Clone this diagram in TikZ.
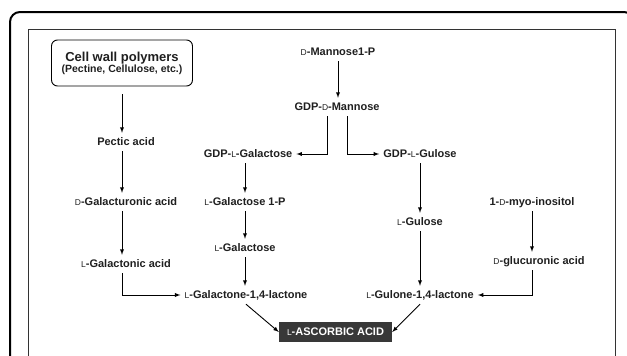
\documentclass[tikz,border=0pt]{standalone}
\usepackage{fontspec}
\setmainfont{Liberation Sans}
\usetikzlibrary{shapes.geometric, arrows}
\tikzstyle{arrow} = [line width=0.9pt,->,>=latex]
\tikzstyle{met} = [text centered, font=\bfseries\fontsize{11}{12}\selectfont, text=black!88, text height=8pt, text depth=2pt, inner xsep=4pt, inner ysep=4pt]
\newcommand{\Dp}{{\mdseries\fontsize{8.5}{8.5}\selectfont D}}
\newcommand{\Lp}{{\mdseries\fontsize{8.5}{8.5}\selectfont L}}

\begin{document}
\begin{tikzpicture}[x=1pt,y=-1pt]
        \useasboundingbox (0,0) rectangle (627,356);
        \clip (0,0) rectangle (627,356);

        %frames
        \draw [line width=2pt, rounded corners=10pt] (10,12) rectangle (634,380);
        \draw [line width=0.8pt, black!80] (28,29) rectangle (615,372);

        %cell wall pathway
        \node at (122,63) [draw, line width=0.9pt, rounded corners=6pt, minimum width=141pt, minimum height=46pt, align=center, text=black!88] (cellwall) {\bfseries\fontsize{13}{15}\selectfont Cell wall polymers\\[-1pt]\bfseries\fontsize{10.5}{12}\selectfont (Pectine, Cellulose, etc.)};
        \node at (126,142) [met] (pectic) {Pectic acid};
        \node at (126,202) [met] (dgalur) {\Dp-Galacturonic acid};
        \node at (126,264) [met] (lgalon) {\Lp-Galactonic acid};

        %mannose pathway
        \node at (338,52) [met] (man1p) {\Dp-Mannose1-P};
        \node at (337,107) [met] (gdpman) {GDP-\Dp-Mannose};
        \node at (248,154) [met] (gdpgal) {GDP-\Lp-Galactose};
        \node at (245,202) [met] (lgal1p) {\Lp-Galactose 1-P};
        \node at (245,248) [met] (lgal) {\Lp-Galactose};
        \node at (246,295) [met] (lgallac) {\Lp-Galactone-1,4-lactone};

        %gulose pathway
        \node at (420,154) [met] (gdpgul) {GDP-\Lp-Gulose};
        \node at (420,222) [met] (lgul) {\Lp-Gulose};
        \node at (420,295) [met] (lgullac) {\Lp-Gulone-1,4-lactone};

        %inositol pathway
        \node at (532,202) [met] (inositol) {1-\Dp-myo-inositol};
        \node at (539,261) [met] (glucur) {\Dp-glucuronic acid};

        %ascorbic acid
        \node at (335.5,332) [fill=black!78, text=white, minimum width=113pt, minimum height=20pt, inner sep=0pt, font=\bfseries\fontsize{11}{12}\selectfont] (asa) {{\mdseries\fontsize{8.5}{8.5}\selectfont L}-ASCORBIC ACID};

        \draw [arrow, shorten <=8pt] (cellwall.south) -- (pectic.north -| cellwall);
        \draw [arrow] (pectic.south -| cellwall) -- (dgalur.north -| cellwall);
        \draw [arrow] (dgalur.south -| cellwall) -- (lgalon.north -| cellwall);
        \draw [arrow] (lgalon.south -| cellwall) |- (lgallac.west);

        \draw [arrow] (man1p.south) -- (man1p.south |- gdpman.north);
        \draw [arrow] ([xshift=-10pt]gdpman.south) |- (gdpgal.east);
        \draw [arrow] ([xshift=10pt]gdpman.south) |- (gdpgul.west);
        \draw [arrow] (gdpgal.south -| lgal1p) -- (lgal1p.north);
        \draw [arrow] (lgal1p.south) -- (lgal.north);
        \draw [arrow] (lgal.south) -- (lgal.south |- lgallac.north);

        \draw [arrow] (gdpgul.south) -- (lgul.north);
        \draw [arrow] (lgul.south) -- (lgullac.north);

        \draw [arrow] (inositol.south) -- (glucur.north -| inositol);
        \draw [arrow] (glucur.south -| inositol) |- (lgullac.east);

        \draw [arrow] (lgallac.south) -- (asa.west);
        \draw [arrow] (lgullac.south) -- (asa.east);

    \end{tikzpicture}
\end{document}
